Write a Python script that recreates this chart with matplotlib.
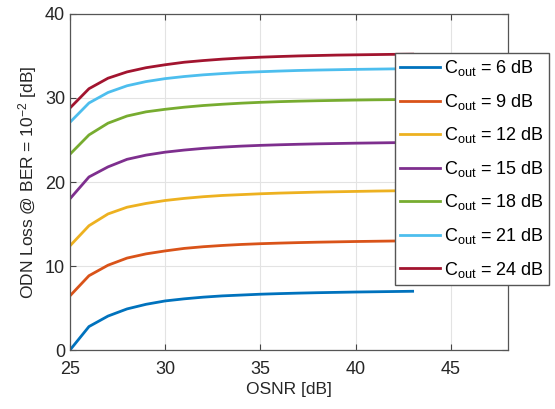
import matplotlib.pyplot as plt
import numpy as np

plt.rcParams['font.family'] = ['Liberation Sans', 'DejaVu Sans']
plt.rcParams['mathtext.fontset'] = 'custom'
plt.rcParams['mathtext.rm'] = 'Liberation Sans'
plt.rcParams['mathtext.it'] = 'Liberation Sans:italic'

# OSNR axis (dB)
osnr = list(range(25, 44))

# ODN loss curves, one per C_out
loss_6 = [0.0, 2.8, 4.05, 4.9, 5.45, 5.85, 6.1, 6.3, 6.45, 6.55, 6.65, 6.72,
          6.78, 6.83, 6.87, 6.91, 6.94, 6.97, 7.0]
loss_9 = [6.45, 8.85, 10.1, 10.95, 11.45, 11.8, 12.1, 12.3, 12.45, 12.57, 12.66,
          12.73, 12.79, 12.84, 12.88, 12.92, 12.95, 12.98, 13.0]
loss_12 = [12.4, 14.8, 16.2, 17.0, 17.45, 17.8, 18.05, 18.25, 18.4, 18.5, 18.6,
           18.68, 18.74, 18.8, 18.84, 18.88, 18.92, 18.95, 18.98]
loss_15 = [18.0, 20.6, 21.8, 22.7, 23.2, 23.55, 23.8, 24.0, 24.15, 24.27, 24.36,
           24.43, 24.49, 24.54, 24.58, 24.62, 24.65, 24.68, 24.7]
loss_18 = [23.3, 25.6, 27.0, 27.85, 28.35, 28.65, 28.9, 29.1, 29.25, 29.38, 29.48,
           29.56, 29.62, 29.67, 29.71, 29.75, 29.78, 29.8, 29.82]
loss_21 = [27.1, 29.4, 30.65, 31.45, 31.95, 32.3, 32.55, 32.75, 32.9, 33.03, 33.12,
           33.2, 33.27, 33.32, 33.36, 33.4, 33.43, 33.46, 33.48]
loss_24 = [28.8, 31.1, 32.35, 33.1, 33.6, 33.95, 34.25, 34.45, 34.62, 34.75, 34.85,
           34.93, 35.0, 35.05, 35.1, 35.13, 35.16, 35.19, 35.21]

cout = [6, 9, 12, 15, 18, 21, 24]
curves = [loss_6, loss_9, loss_12, loss_15, loss_18, loss_21, loss_24]
colors = ['#0072BD', '#D95319', '#EDB120', '#7E2F8E', '#77AC30', '#4DBEEE', '#A2142F']

fig = plt.figure(figsize=(5.55, 4.09), dpi=100)
ax = fig.add_axes([0.126, 0.144, 0.789, 0.822])

for c, y, col in zip(cout, curves, colors):
    ax.plot(osnr, y, color=col, lw=2, label=r'C$_{\mathrm{out}}$ = %d dB' % c)

ax.set_xlim(25, 48)
ax.set_ylim(0, 40)
ax.set_xticks([25, 30, 35, 40, 45])
ax.set_yticks([0, 10, 20, 30, 40])
ax.grid(True, color='#e3e3e3', lw=0.8)
ax.tick_params(direction='in', top=True, right=True, labelsize=13,
               color='#444444', labelcolor='#262626', length=4)
ax.tick_params(axis='x', pad=8)
for s in ax.spines.values():
    s.set_color('#555555')
    s.set_linewidth(0.9)

ax.set_xlabel('OSNR [dB]', fontsize=12.5, color='#262626', labelpad=3)
ax.set_ylabel(r'ODN Loss @ BER = 10$^{-2}$ [dB]', fontsize=12.5, color='#262626', labelpad=4)

leg = ax.legend(loc='upper left', bbox_to_anchor=(0.742, 0.884), fontsize=13,
                frameon=True, fancybox=False, framealpha=1, edgecolor='#555555',
                handlelength=2.2, handletextpad=0.2, borderpad=0.3,
                labelspacing=0.75, borderaxespad=0)
leg.get_frame().set_linewidth(1.0)

fig.savefig('out.png', dpi=100)
